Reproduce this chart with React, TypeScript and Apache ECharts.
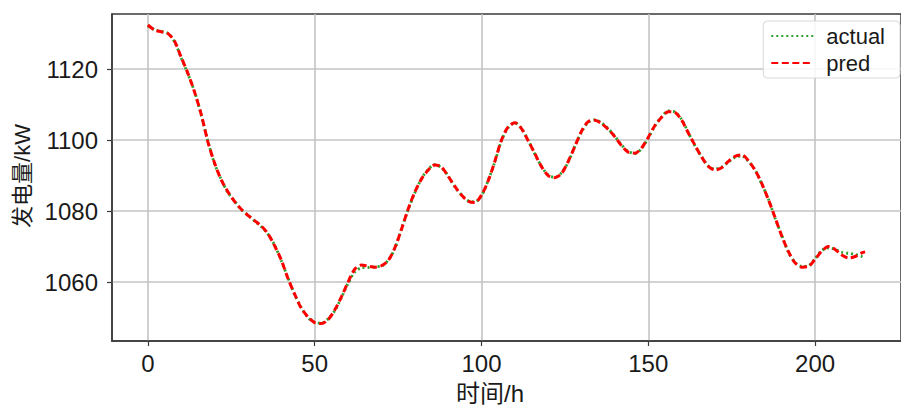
import React, { useEffect, useRef } from "react";
import * as echarts from "echarts";

// hours (step 2) and readings
const hours: number[] = [
  0, 2, 4, 6, 8, 10, 12, 14, 16, 18, 20, 22, 24, 26, 28, 30, 32, 34, 36, 38,
  40, 42, 44, 46, 48, 50, 52, 54, 56, 58, 60, 62, 64, 66, 68, 70, 72, 74, 76, 78,
  80, 82, 84, 86, 88, 90, 92, 94, 96, 98, 100, 102, 104, 106, 108, 110, 112, 114, 116, 118,
  120, 122, 124, 126, 128, 130, 132, 134, 136, 138, 140, 142, 144, 146, 148, 150, 152, 154, 156, 158,
  160, 162, 164, 166, 168, 170, 172, 174, 176, 178, 180, 182, 184, 186, 188, 190, 192, 194, 196, 198,
  200, 202, 204, 206, 208, 210, 212, 214, 215,
];

const predValues: number[] = [
  1132.4, 1131.0, 1130.5, 1130.0, 1127.8, 1123.3, 1118.8, 1113.5, 1107.2, 1099.5,
  1093.5, 1088.8, 1085.4, 1082.7, 1080.5, 1078.8, 1077.3, 1075.8, 1073.6, 1070.2,
  1066.2, 1061.0, 1056.6, 1052.6, 1050.2, 1048.6, 1048.3, 1049.4, 1052.1, 1055.8,
  1060.0, 1063.6, 1064.8, 1064.5, 1064.2, 1064.6, 1066.0, 1069.6, 1074.8, 1080.5,
  1085.3, 1089.0, 1091.5, 1093.0, 1092.4, 1089.8, 1087.0, 1084.5, 1082.8, 1082.4,
  1084.5, 1088.5, 1094.0, 1100.0, 1103.7, 1104.9, 1103.2, 1099.8, 1096.2, 1092.5,
  1090.0, 1089.4, 1090.6, 1094.0, 1098.2, 1102.5, 1105.2, 1105.6, 1104.6, 1103.0,
  1100.9, 1098.4, 1096.6, 1096.3, 1097.8, 1100.8, 1104.1, 1106.4, 1108.0, 1107.8,
  1105.6, 1102.0, 1098.5, 1095.2, 1092.6, 1091.6, 1092.2, 1094.0, 1095.4, 1095.8,
  1094.2, 1091.5, 1087.8, 1083.2, 1078.2, 1073.0, 1068.6, 1065.4, 1064.2, 1064.4,
  1066.4, 1068.7, 1070.0, 1069.2, 1067.6, 1066.8, 1067.2, 1068.2, 1068.5,
];

const actualValues: number[] = [
  1132.2, 1131.1, 1130.6, 1130.1, 1127.6, 1123.1, 1118.6, 1113.6, 1107.0, 1099.7,
  1093.3, 1088.9, 1085.2, 1082.8, 1080.4, 1078.9, 1077.2, 1075.6, 1073.5, 1070.4,
  1066.0, 1061.2, 1056.4, 1052.8, 1050.0, 1048.7, 1048.4, 1049.6, 1051.9, 1055.6,
  1059.6, 1062.8, 1064.0, 1064.1, 1064.3, 1064.5, 1066.1, 1069.4, 1074.9, 1080.3,
  1085.1, 1089.1, 1091.7, 1093.1, 1092.2, 1089.9, 1086.8, 1084.6, 1082.9, 1082.6,
  1084.3, 1088.6, 1093.8, 1099.8, 1103.5, 1104.8, 1103.3, 1099.9, 1096.0, 1092.6,
  1090.1, 1089.5, 1090.8, 1093.8, 1098.3, 1102.3, 1105.0, 1105.7, 1104.8, 1103.2,
  1101.0, 1098.6, 1096.8, 1096.2, 1097.6, 1100.6, 1104.0, 1106.5, 1108.2, 1107.9,
  1105.8, 1102.1, 1098.3, 1095.3, 1092.7, 1091.8, 1092.4, 1093.8, 1095.1, 1095.5,
  1094.0, 1091.6, 1087.6, 1083.4, 1078.0, 1073.2, 1068.4, 1065.6, 1064.4, 1064.6,
  1066.6, 1068.9, 1069.6, 1069.2, 1068.4, 1068.1, 1067.8, 1067.2, 1066.8,
];

const xTicks: number[] = [0, 50, 100, 150, 200];
const yTicks: number[] = [1060, 1080, 1100, 1120];
const seriesNames: string[] = ["actual", "pred"];
const xTitle = "时间/h";
const yTitle = "发电量/kW";

const FONT = '"Liberation Sans", Arial, "Noto Sans CJK SC", sans-serif';

export default function App() {
  const ref = useRef<HTMLDivElement>(null);
  useEffect(() => {
    if (!ref.current) return;
    const chart = echarts.init(ref.current, undefined, { renderer: "svg" });
    const actual = hours.map((h, i) => [h, actualValues[i]]);
    const pred = hours.map((h, i) => [h, predValues[i]]);
    chart.setOption({
      animation: false,
      backgroundColor: "#ffffff",
      textStyle: { fontFamily: FONT },
      grid: {
        left: 112,
        right: -8,
        top: 14,
        bottom: 64,
        show: true,
        borderColor: "#3a3a3a",
        borderWidth: 1.5,
        backgroundColor: "transparent",
      },
      legend: {
        data: seriesNames,
        orient: "vertical",
        right: 1,
        top: 21,
        itemWidth: 42,
        itemHeight: 14,
        itemGap: 5,
        padding: [4, 15, 4, 7],
        borderColor: "#d8d8d8",
        borderWidth: 1,
        borderRadius: 4,
        backgroundColor: "rgba(255,255,255,0.85)",
        itemStyle: { opacity: 0 },
        textStyle: { fontSize: 22, color: "#1a1a1a", fontFamily: FONT, padding: [0, 0, 0, 8] },
      },
      xAxis: {
        type: "value",
        min: -10.75,
        max: 225.75,
        axisLine: { show: true, onZero: false, lineStyle: { color: "#3a3a3a", width: 1.5 } },
        axisTick: {
          show: true,
          length: 5,
          customValues: xTicks,
          lineStyle: { color: "#3a3a3a", width: 1.2 },
        },
        axisLabel: {
          customValues: xTicks,
          fontSize: 24,
          color: "#1a1a1a",
          margin: 10,
          fontFamily: FONT,
          formatter: (v: number) => String(v),
        },
        splitLine: { show: true, lineStyle: { color: "#c4c4c4", width: 1.6 } },
      },
      yAxis: {
        type: "value",
        min: 1043.4,
        max: 1135.5,
        axisLine: { show: true, onZero: false, lineStyle: { color: "#3a3a3a", width: 1.5 } },
        axisTick: {
          show: true,
          length: 5,
          customValues: yTicks,
          lineStyle: { color: "#3a3a3a", width: 1.2 },
        },
        axisLabel: {
          customValues: yTicks,
          fontSize: 24,
          color: "#1a1a1a",
          margin: 14,
          fontFamily: FONT,
          formatter: (v: number) => String(v),
        },
        splitLine: { show: true, lineStyle: { color: "#c4c4c4", width: 1.6 } },
      },
      graphic: [
        {
          type: "text",
          x: 490,
          y: 393,
          style: {
            text: xTitle,
            fontSize: 24,
            fill: "#1a1a1a",
            fontFamily: FONT,
            align: "center",
            verticalAlign: "middle",
          },
        },
        {
          type: "text",
          x: 22,
          y: 176,
          rotation: Math.PI / 2,
          style: {
            text: yTitle,
            fontSize: 22,
            fill: "#1a1a1a",
            fontFamily: FONT,
            align: "center",
            verticalAlign: "middle",
          },
        },
      ],
      series: [
        {
          name: seriesNames[0],
          type: "line",
          data: actual,
          smooth: 0.3,
          showSymbol: false,
          symbol: "none",
          lineStyle: { color: "#2ca02c", width: 2.8, type: [2, 3] },
          itemStyle: { color: "#2ca02c" },
          z: 2,
        },
        {
          name: seriesNames[1],
          type: "line",
          data: pred,
          smooth: 0.3,
          showSymbol: false,
          symbol: "none",
          lineStyle: { color: "#ff0000", width: 3, type: [7, 3.5] },
          itemStyle: { color: "#ff0000" },
          z: 3,
        },
      ],
    });
    return () => chart.dispose();
  }, []);
  return (
    <div
      ref={ref}
      style={{ position: "fixed", left: 0, top: 0, width: 901, height: 405 }}
    />
  );
}
